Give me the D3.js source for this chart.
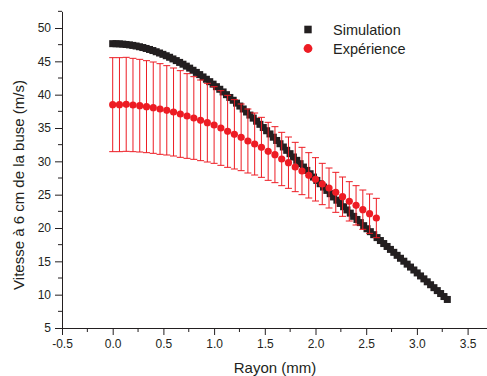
<!DOCTYPE html>
<html>
<head>
<meta charset="utf-8">
<script src="https://cdn.jsdelivr.net/npm/d3@7"></script>
<style>
  html, body { margin: 0; padding: 0; background: #fff; }
  svg { display: block; font-family: "Liberation Sans", Arial, sans-serif; }
</style>
</head>
<body>
<svg id="chart" width="487" height="376"></svg>
<script>
// ---- data ----
const xTicks = [-0.5, 0.0, 0.5, 1.0, 1.5, 2.0, 2.5, 3.0, 3.5];
const yTicks = [5, 10, 15, 20, 25, 30, 35, 40, 45, 50];
const seriesNames = ["Simulation", "Expérience"];

// Simulation: radius (mm) 0 .. 3.3 by 0.033
const simRadius = d3.range(0, 101).map(i => +(i * 0.033).toFixed(3));
const simSpeed = [
  47.65, 47.64, 47.62, 47.58, 47.53, 47.47, 47.39, 47.30, 47.19, 47.07,
  46.93, 46.78, 46.62, 46.44, 46.25, 46.05, 45.84, 45.61, 45.36, 45.11,
  44.84, 44.57, 44.28, 43.98, 43.66, 43.34, 43.01, 42.66, 42.31, 41.95,
  41.58, 41.20, 40.81, 40.41, 40.00, 39.58, 39.16, 38.73, 38.29, 37.85,
  37.40, 36.94, 36.48, 36.02, 35.55, 35.07, 34.59, 34.11, 33.62, 33.13,
  32.64, 32.15, 31.65, 31.15, 30.65, 30.15, 29.65, 29.14, 28.64, 28.14,
  27.64, 27.14, 26.64, 26.14, 25.64, 25.15, 24.66, 24.17, 23.68, 23.19,
  22.71, 22.23, 21.75, 21.28, 20.81, 20.35, 19.89, 19.45, 19.00, 18.56,
  18.12, 17.67, 17.23, 16.79, 16.35, 15.90, 15.46, 15.02, 14.58, 14.14,
  13.70, 13.26, 12.81, 12.37, 11.93, 11.49, 11.05, 10.61, 10.17, 9.72,
  9.28
];

// Experiment: radius (mm) 0 .. 2.6 by 1/15
const expRadius = d3.range(0, 40).map(i => +(i * 2.6 / 39).toFixed(4));
const expSpeed = [
  38.5, 38.5, 38.55, 38.45, 38.35, 38.2, 38.05, 37.85, 37.65, 37.4,
  37.1, 36.8, 36.5, 36.15, 35.8, 35.45, 35.0, 34.5, 34.05, 33.6,
  33.05, 32.6, 32.1, 31.5, 31.0, 30.35, 29.8, 29.15, 28.55, 27.9,
  27.3, 26.6, 26.0, 25.35, 24.7, 24.0, 23.4, 22.75, 22.15, 21.5
];
const expError = [
  7.05, 7.05, 7.05, 7.0, 6.95, 6.9, 6.85, 6.8, 6.7, 6.6,
  6.5, 6.35, 6.2, 6.05, 5.9, 5.75, 5.6, 5.4, 5.2, 5.0,
  4.8, 4.65, 4.5, 4.35, 4.2, 4.0, 3.85, 3.7, 3.55, 3.4,
  3.25, 3.1, 3.0, 3.0, 2.95, 2.95, 2.95, 2.95, 2.95, 2.95
];

// ---- layout ----
const svg = d3.select("#chart");
const x = d3.scaleLinear().domain([-0.5, 3.7]).range([62, 62 + 4.2 * 101.4]);
const y = d3.scaleLinear().domain([5, 52.5]).range([328, 328 - 47.5 * (300 / 45)]);

const textColor = "#231f20";
const red = "#ed1c24";
const black = "#231f20";

// minor ticks
const xMinor = d3.range(-0.25, 3.7, 0.5);
const yMinor = d3.range(7.5, 52.6, 5);

const gx = svg.append("g").attr("transform", `translate(0,${y(5)})`)
  .call(d3.axisBottom(x).tickValues(xTicks).tickSize(7).tickPadding(4).tickSizeOuter(0)
    .tickFormat(d => d.toFixed(1)));
gx.append("g").selectAll("line").data(xMinor).join("line")
  .attr("x1", d => x(d)).attr("x2", d => x(d)).attr("y1", 0).attr("y2", 4)
  .attr("stroke", textColor);

const gy = svg.append("g").attr("transform", `translate(${x(-0.5)},0)`)
  .call(d3.axisLeft(y).tickValues(yTicks).tickSize(7).tickPadding(4).tickSizeOuter(0)
    .tickFormat(d3.format("d")));
gy.append("g").selectAll("line").data(yMinor).join("line")
  .attr("x1", -4).attr("x2", 0).attr("y1", d => y(d)).attr("y2", d => y(d))
  .attr("stroke", textColor);

[gx, gy].forEach(g => {
  g.select(".domain").attr("stroke", textColor).attr("stroke-width", 1);
  g.selectAll(".tick line").attr("stroke", textColor);
  g.selectAll(".tick text").attr("fill", textColor)
    .style("font-family", '"Liberation Sans", Arial, sans-serif').style("font-size", "12px");
});

// axis titles
svg.append("text").attr("x", 275).attr("y", 372.5).attr("text-anchor", "middle")
  .attr("fill", textColor).style("font-size", "15px").text("Rayon (mm)");
svg.append("text").attr("transform", "translate(24,185) rotate(-90)").attr("text-anchor", "middle")
  .attr("fill", textColor).style("font-size", "15px").text("Vitesse à 6 cm de la buse (m/s)");

// simulation squares
const sq = 7;
svg.append("g").selectAll("rect").data(simRadius).join("rect")
  .attr("x", (d) => x(d) - sq / 2)
  .attr("y", (d, i) => y(simSpeed[i]) - sq / 2)
  .attr("width", sq).attr("height", sq)
  .attr("fill", black);

// experiment error bars
const cap = 3.5;
const eb = svg.append("g").attr("stroke", red).attr("stroke-width", 1);
expRadius.forEach((r, i) => {
  const cx = x(r);
  const top = y(expSpeed[i] + expError[i]);
  const bot = y(expSpeed[i] - expError[i]);
  eb.append("line").attr("x1", cx).attr("x2", cx).attr("y1", top).attr("y2", bot);
  eb.append("line").attr("x1", cx - cap).attr("x2", cx + cap).attr("y1", top).attr("y2", top);
  eb.append("line").attr("x1", cx - cap).attr("x2", cx + cap).attr("y1", bot).attr("y2", bot);
});

// experiment circles
svg.append("g").selectAll("circle").data(expRadius).join("circle")
  .attr("cx", d => x(d))
  .attr("cy", (d, i) => y(expSpeed[i]))
  .attr("r", 3.6)
  .attr("fill", red);

// legend
const lg = svg.append("g");
lg.append("rect").attr("x", 308 - 3.7).attr("y", 29.5 - 3.8).attr("width", 7.4).attr("height", 7.6).attr("fill", black);
lg.append("circle").attr("cx", 308).attr("cy", 48.5).attr("r", 4.4).attr("fill", red);
lg.selectAll("text").data(seriesNames).join("text")
  .attr("x", 333).attr("y", (d, i) => 34.5 + i * 19)
  .attr("fill", textColor).style("font-size", "14.5px").text(d => d);
</script>
</body>
</html>
